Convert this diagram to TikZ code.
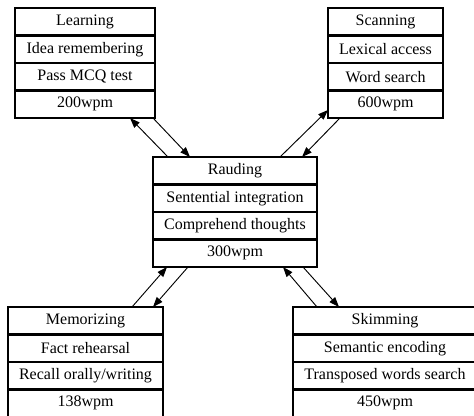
\documentclass[tikz,border=0pt]{standalone}
\usepackage{fontspec}
\setmainfont{Liberation Serif}
\usetikzlibrary{arrows.meta}

\tikzset{
  row/.style={draw, line width=2pt, outer sep=0pt, inner sep=0pt,
    minimum height=20.625pt, font=\fontsize{12}{14}\selectfont},
  conn/.style={-{Triangle[length=7.5pt,width=5.5pt]}, line width=0.7pt}
}

\begin{document}
\begin{tikzpicture}[x=0.75pt, y=-0.75pt]
  \useasboundingbox (0,0) rectangle (474,416);

  % the five reading gears, one row per line
  \foreach \t [count=\i] in {Learning, Idea remembering, Pass MCQ test, 200wpm}
    \node[row, minimum width=105pt] (learn-\i) at (85, {21.75+27.5*(\i-1)}) {\t};
  \foreach \t [count=\i] in {Scanning, Lexical access, Word search, 600wpm}
    \node[row, minimum width=86.25pt] (scan-\i) at (385.5, {21.75+27.5*(\i-1)}) {\t};
  \foreach \t [count=\i] in {Rauding, Sentential integration, Comprehend thoughts, 300wpm}
    \node[row, minimum width=123pt] (rau-\i) at (235, {170.75+27.5*(\i-1)}) {\t};
  \foreach \t [count=\i] in {Memorizing, Fact rehearsal, Recall orally/writing, 138wpm}
    \node[row, minimum width=116.25pt] (mem-\i) at (85.5, {320.75+27.5*(\i-1)}) {\t};
  \foreach \t [count=\i] in {Skimming, Semantic encoding, Transposed words search, 450wpm}
    \node[row, minimum width=138pt] (skim-\i) at (385, {320.75+27.5*(\i-1)}) {\t};

  % shifts between gears
  \draw[conn] ([xshift=11.25pt]rau-1.north west) -- ([xshift=-18.75pt]learn-4.south east);
  \draw[conn] ([xshift=-1.5pt]learn-4.south east) -- ([xshift=27.75pt]rau-1.north west);

  \draw[conn] ([xshift=-27.75pt]rau-1.north east) -- ([yshift=6pt]scan-4.south west);
  \draw[conn] ([xshift=9pt]scan-4.south west) -- ([xshift=-11.25pt]rau-1.north east);

  \draw[conn] ([xshift=-23.25pt]mem-1.north east) -- ([xshift=10.5pt]rau-4.south west);
  \draw[conn] ([xshift=26.25pt]rau-4.south west) -- ([xshift=-7.5pt]mem-1.north east);

  \draw[conn] ([xshift=18pt]skim-1.north west) -- ([xshift=-25.5pt]rau-4.south east);
  \draw[conn] ([xshift=-10.5pt]rau-4.south east) -- ([xshift=34.5pt]skim-1.north west);
\end{tikzpicture}
\end{document}
